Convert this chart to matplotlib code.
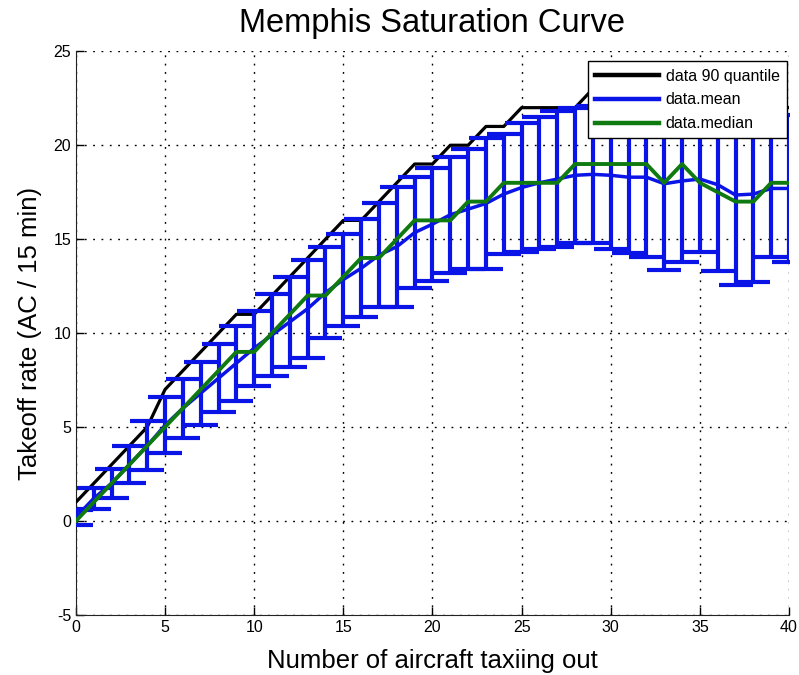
import numpy as np
import matplotlib
matplotlib.use("Agg")
from matplotlib import pyplot as plt

plt.rcParams['font.family'] = ['Liberation Sans', 'DejaVu Sans']
plt.rcParams['axes.unicode_minus'] = False

# aircraft taxiing out
n_taxi = list(range(0, 41))

# 90 % quantile of takeoff rate
q90 = [1, 2, 3, 4, 5, 7, 8, 9, 10, 11, 11, 12, 13, 14, 15, 16, 16, 17, 18, 19, 19,
       20, 20, 21, 21, 22, 22, 22, 22, 23, 23, 23, 23, 23, 23, 23, 23, 23, 23, 22, 22]

# mean takeoff rate
rate_mean = [0.2, 1.2, 2.0, 3.0, 4.0, 5.1, 6.0, 6.8, 7.6, 8.4, 9.2, 9.9, 10.6, 11.3,
             12.15, 12.85, 13.45, 14.15, 14.6, 15.35, 15.8, 16.3, 16.6, 16.9, 17.4,
             17.75, 18.0, 18.2, 18.4, 18.45, 18.4, 18.3, 18.3, 17.95, 18.1, 18.2,
             17.9, 17.35, 17.4, 17.7, 17.7]

# standard deviation (error bar half length)
rate_std = [0.4, 0.58, 0.76, 1.0, 1.3, 1.5, 1.57, 1.67, 1.8, 2.0, 2.0, 2.2, 2.4, 2.6,
            2.42, 2.45, 2.6, 2.75, 3.2, 2.95, 3.0, 3.1, 3.2, 3.5, 3.2, 3.45, 3.5,
            3.6, 3.6, 3.65, 3.9, 4.06, 4.26, 4.6, 4.3, 3.9, 4.6, 4.8, 4.67, 3.66, 3.9]

# median takeoff rate
rate_median = [0, 1, 2, 3, 4, 5, 6, 7, 8, 9, 9, 10, 11, 12, 12, 13, 14, 14, 15, 16, 16,
               16, 17, 17, 18, 18, 18, 18, 19, 19, 19, 19, 19, 18, 19, 18, 17.5, 17, 17,
               18, 18]

fig = plt.figure(figsize=(7.99, 6.75), dpi=100)
ax = fig.add_axes([0.095, 0.089, 0.8925, 0.835])

l1, = ax.plot(n_taxi, q90, color='black', lw=2.3, zorder=3)
eb = ax.errorbar(n_taxi, rate_mean, yerr=rate_std, color='#0a14e6', lw=2.5,
                 elinewidth=3.0, capsize=12, capthick=3.0, zorder=4)
l2 = eb.lines[0]
l3, = ax.plot(n_taxi, rate_median, color='#0f7a0f', lw=2.8, zorder=5)

ax.set_xlim(0, 40)
ax.set_ylim(-5, 25)
ax.set_xticks(np.arange(0, 41, 5))
ax.set_yticks(np.arange(-5, 26, 5))
ax.grid(True, color='black', linestyle=(0, (1.3, 4.7)), lw=1.0)
ax.tick_params(direction='in', length=6, labelsize=11.5, width=1)
for s in ['top', 'right']:
    ax.spines[s].set_visible(False)
for s in ['left', 'bottom']:
    ax.spines[s].set_color('#222222')

ax.set_title("Memphis Saturation Curve", fontsize=23.5, pad=14)
ax.set_xlabel("Number of aircraft taxiing out", fontsize=18.5, labelpad=10)
ax.set_ylabel("Takeoff rate (AC / 15 min)", fontsize=18.5, labelpad=8)

leg = ax.legend([l1, l2, l3], ['data 90 quantile', 'data.mean', 'data.median'],
                loc='upper right', bbox_to_anchor=(0.997, 0.982), borderaxespad=0.0,
                fontsize=11.5, handlelength=4.0, labelspacing=0.55, fancybox=False,
                framealpha=1, edgecolor='black', borderpad=0.45, handletextpad=0.4)
leg.get_frame().set_linewidth(1.0)
for ln in leg.get_lines():
    ln.set_linewidth(3.2)

plt.savefig("out.png", dpi=100)
